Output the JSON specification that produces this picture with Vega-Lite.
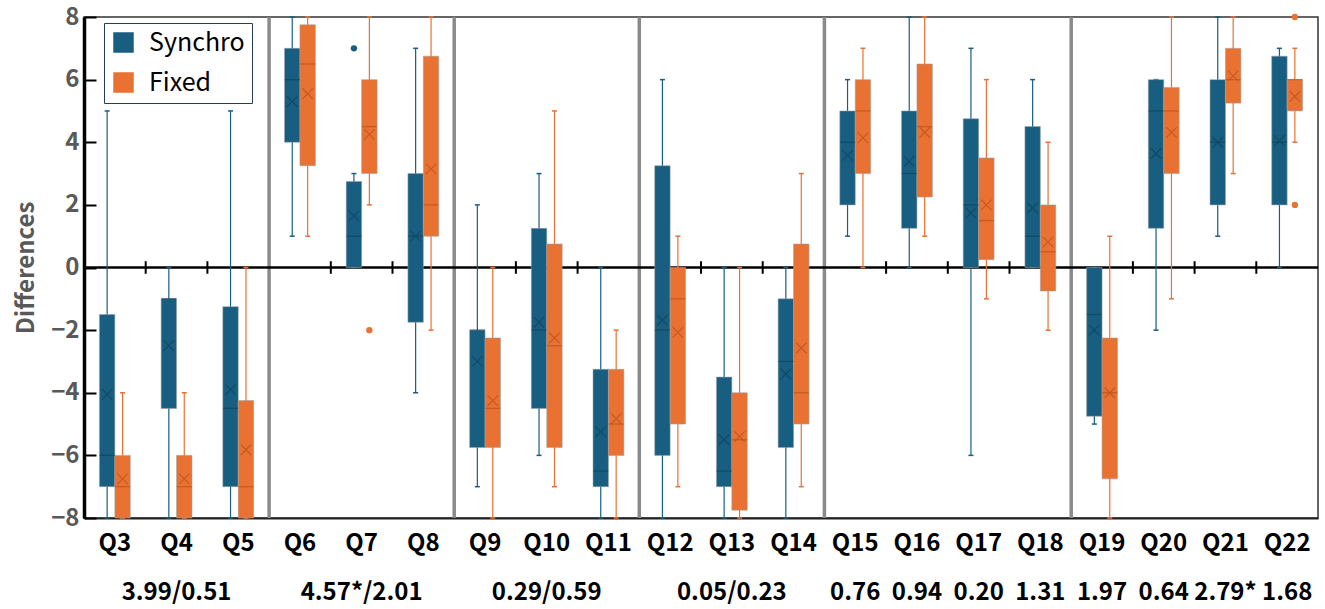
{
  "$schema": "https://vega.github.io/schema/vega-lite/v6.json",
  "autosize": "none",
  "width": 1234,
  "height": 501,
  "padding": {"left": 84, "top": 17, "right": 7, "bottom": 91},
  "config": {
    "font": "Noto Sans CJK JP",
    "view": {"stroke": "#333333", "strokeWidth": 1.5}
  },
  "datasets": {
    "stats": [
      {"q": "Q3", "s": "Synchro", "lo": -8, "q1": -7, "med": -6, "q3": -1.5, "hi": 5, "mean": -4.05},
      {"q": "Q3", "s": "Fixed", "lo": -8, "q1": -8, "med": -7, "q3": -6, "hi": -4, "mean": -6.75},
      {"q": "Q4", "s": "Synchro", "lo": -8, "q1": -4.5, "med": -1, "q3": -1, "hi": 0, "mean": -2.5},
      {"q": "Q4", "s": "Fixed", "lo": -8, "q1": -8, "med": -7, "q3": -6, "hi": -4, "mean": -6.75},
      {"q": "Q5", "s": "Synchro", "lo": -8, "q1": -7, "med": -4.5, "q3": -1.25, "hi": 5, "mean": -3.9},
      {"q": "Q5", "s": "Fixed", "lo": -8, "q1": -8, "med": -7, "q3": -4.25, "hi": 0, "mean": -5.82},
      {"q": "Q6", "s": "Synchro", "lo": 1, "q1": 4, "med": 6, "q3": 7, "hi": 8, "mean": 5.3},
      {"q": "Q6", "s": "Fixed", "lo": 1, "q1": 3.25, "med": 6.5, "q3": 7.75, "hi": 8, "mean": 5.55},
      {"q": "Q7", "s": "Synchro", "lo": 0, "q1": 0, "med": 1, "q3": 2.75, "hi": 3, "mean": 1.65},
      {"q": "Q7", "s": "Fixed", "lo": 2, "q1": 3, "med": 4.5, "q3": 6, "hi": 8, "mean": 4.25},
      {"q": "Q8", "s": "Synchro", "lo": -4, "q1": -1.75, "med": 1, "q3": 3, "hi": 7, "mean": 1.0},
      {"q": "Q8", "s": "Fixed", "lo": -2, "q1": 1, "med": 2, "q3": 6.75, "hi": 8, "mean": 3.15},
      {"q": "Q9", "s": "Synchro", "lo": -7, "q1": -5.75, "med": -2, "q3": -2, "hi": 2, "mean": -3.0},
      {"q": "Q9", "s": "Fixed", "lo": -8, "q1": -5.75, "med": -4.5, "q3": -2.25, "hi": 0, "mean": -4.25},
      {"q": "Q10", "s": "Synchro", "lo": -6, "q1": -4.5, "med": -2, "q3": 1.25, "hi": 3, "mean": -1.75},
      {"q": "Q10", "s": "Fixed", "lo": -7, "q1": -5.75, "med": -2.5, "q3": 0.75, "hi": 5, "mean": -2.25},
      {"q": "Q11", "s": "Synchro", "lo": -8, "q1": -7, "med": -6.5, "q3": -3.25, "hi": 0, "mean": -5.25},
      {"q": "Q11", "s": "Fixed", "lo": -8, "q1": -6, "med": -5, "q3": -3.25, "hi": -2, "mean": -4.83},
      {"q": "Q12", "s": "Synchro", "lo": -8, "q1": -6, "med": -2, "q3": 3.25, "hi": 6, "mean": -1.68},
      {"q": "Q12", "s": "Fixed", "lo": -7, "q1": -5, "med": -1, "q3": 0, "hi": 1, "mean": -2.07},
      {"q": "Q13", "s": "Synchro", "lo": -8, "q1": -7, "med": -6.5, "q3": -3.5, "hi": 0, "mean": -5.5},
      {"q": "Q13", "s": "Fixed", "lo": -8, "q1": -7.75, "med": -5.5, "q3": -4, "hi": 0, "mean": -5.4},
      {"q": "Q14", "s": "Synchro", "lo": -8, "q1": -5.75, "med": -3, "q3": -1, "hi": 0, "mean": -3.4},
      {"q": "Q14", "s": "Fixed", "lo": -7, "q1": -5, "med": -4, "q3": 0.75, "hi": 3, "mean": -2.57},
      {"q": "Q15", "s": "Synchro", "lo": 1, "q1": 2, "med": 4, "q3": 5, "hi": 6, "mean": 3.58},
      {"q": "Q15", "s": "Fixed", "lo": 0, "q1": 3, "med": 5, "q3": 6, "hi": 7, "mean": 4.14},
      {"q": "Q16", "s": "Synchro", "lo": 0, "q1": 1.25, "med": 3, "q3": 5, "hi": 8, "mean": 3.39},
      {"q": "Q16", "s": "Fixed", "lo": 1, "q1": 2.25, "med": 4.5, "q3": 6.5, "hi": 8, "mean": 4.31},
      {"q": "Q17", "s": "Synchro", "lo": -6, "q1": 0, "med": 2, "q3": 4.75, "hi": 7, "mean": 1.74},
      {"q": "Q17", "s": "Fixed", "lo": -1, "q1": 0.25, "med": 1.5, "q3": 3.5, "hi": 6, "mean": 2.0},
      {"q": "Q18", "s": "Synchro", "lo": 0, "q1": 0, "med": 1, "q3": 4.5, "hi": 6, "mean": 1.9},
      {"q": "Q18", "s": "Fixed", "lo": -2, "q1": -0.75, "med": 0.5, "q3": 2, "hi": 4, "mean": 0.81},
      {"q": "Q19", "s": "Synchro", "lo": -5, "q1": -4.75, "med": -1.5, "q3": 0, "hi": 0, "mean": -2.0},
      {"q": "Q19", "s": "Fixed", "lo": -8, "q1": -6.75, "med": -4, "q3": -2.25, "hi": 1, "mean": -4.0},
      {"q": "Q20", "s": "Synchro", "lo": -2, "q1": 1.25, "med": 5, "q3": 6, "hi": 6, "mean": 3.64},
      {"q": "Q20", "s": "Fixed", "lo": -1, "q1": 3, "med": 5, "q3": 5.75, "hi": 8, "mean": 4.31},
      {"q": "Q21", "s": "Synchro", "lo": 1, "q1": 2, "med": 4, "q3": 6, "hi": 8, "mean": 4.0},
      {"q": "Q21", "s": "Fixed", "lo": 3, "q1": 5.25, "med": 6, "q3": 7, "hi": 8, "mean": 6.12},
      {"q": "Q22", "s": "Synchro", "lo": 0, "q1": 2, "med": 4, "q3": 6.75, "hi": 7, "mean": 4.05},
      {"q": "Q22", "s": "Fixed", "lo": 4, "q1": 5, "med": 6, "q3": 6, "hi": 7, "mean": 5.46}
    ],
    "outliers": [
      {"q": "Q7", "s": "Synchro", "v": 7},
      {"q": "Q7", "s": "Fixed", "v": -2},
      {"q": "Q22", "s": "Fixed", "v": 8},
      {"q": "Q22", "s": "Fixed", "v": 2}
    ],
    "seps": [
      {"q": "Q6"}, {"q": "Q9"}, {"q": "Q12"}, {"q": "Q15"}, {"q": "Q19"}
    ],
    "ticks": [
      {"q": "Q4"}, {"q": "Q5"}, {"q": "Q7"}, {"q": "Q8"}, {"q": "Q10"}, {"q": "Q11"},
      {"q": "Q13"}, {"q": "Q14"}, {"q": "Q16"}, {"q": "Q17"}, {"q": "Q18"},
      {"q": "Q20"}, {"q": "Q21"}, {"q": "Q22"}
    ],
    "notes": [
      {"q": "Q4", "t": "3.99/0.51"},
      {"q": "Q7", "t": "4.57*/2.01"},
      {"q": "Q10", "t": "0.29/0.59"},
      {"q": "Q13", "t": "0.05/0.23"},
      {"q": "Q15", "t": "0.76"},
      {"q": "Q16", "t": "0.94"},
      {"q": "Q17", "t": "0.20"},
      {"q": "Q18", "t": "1.31"},
      {"q": "Q19", "t": "1.97"},
      {"q": "Q20", "t": "0.64"},
      {"q": "Q21", "t": "2.79*"},
      {"q": "Q22", "t": "1.68"}
    ]
  },
  "layer": [
    {
      "data": {"name": "seps"},
      "mark": {"type": "rule", "color": "#8a8a8a", "strokeWidth": 3.5},
      "encoding": {
        "x": {
          "field": "q", "type": "ordinal", "bandPosition": 0,
          "scale": {"domain": ["Q3","Q4","Q5","Q6","Q7","Q8","Q9","Q10","Q11","Q12","Q13","Q14","Q15","Q16","Q17","Q18","Q19","Q20","Q21","Q22"], "paddingInner": 0, "paddingOuter": 0},
          "axis": {
            "title": null, "labelAngle": 0, "ticks": false, "labelPadding": 13,
            "labelFontSize": 24, "labelFontWeight": "bold", "labelColor": "#000000",
            "domainColor": "#222222", "domainWidth": 2
          }
        },
        "y": {"datum": 8, "type": "quantitative", "scale": {"domain": [-8, 8], "nice": false}, "axis": {
          "title": "Differences", "titleFontSize": 24, "titleFontWeight": "bold", "titleColor": "#595959", "titlePadding": 12,
          "values": [-8, -6, -4, -2, 0, 2, 4, 6, 8], "grid": false,
          "tickSize": -12, "tickColor": "#000000", "tickWidth": 2, "labelPadding": 17,
          "labelFontSize": 24, "labelFontWeight": "bold", "labelColor": "#595959",
          "domainColor": "#000000", "domainWidth": 3.5
        }},
        "y2": {"datum": -8}
      }
    },
    {
      "data": {"values": [{"z": 0}]},
      "mark": {"type": "rule", "color": "#000000", "strokeWidth": 2.5},
      "encoding": {
        "y": {"field": "z", "type": "quantitative"}
      }
    },
    {
      "data": {"name": "ticks"},
      "mark": {"type": "rule", "color": "#000000", "strokeWidth": 2},
      "encoding": {
        "x": {"field": "q", "type": "ordinal", "bandPosition": 0},
        "y": {"datum": -0.2, "type": "quantitative"},
        "y2": {"datum": 0.2}
      }
    },
    {
      "data": {"name": "stats"},
      "mark": {"type": "rule", "strokeWidth": 1.2},
      "encoding": {
        "x": {"field": "q", "type": "ordinal"},
        "xOffset": {"field": "s", "type": "nominal", "scale": {"domain": ["Synchro", "Fixed"], "paddingInner": 0, "paddingOuter": 1.05}},
        "y": {"field": "lo", "type": "quantitative"},
        "y2": {"field": "hi"},
        "color": {"field": "s", "type": "nominal", "scale": {"domain": ["Synchro", "Fixed"], "range": ["#175E80", "#E97132"]}}
      }
    },
    {
      "data": {"name": "stats"},
      "mark": {"type": "tick", "orient": "horizontal", "size": 5, "thickness": 1.5, "opacity": 1},
      "encoding": {
        "x": {"field": "q", "type": "ordinal"},
        "xOffset": {"field": "s", "type": "nominal"},
        "y": {"field": "lo", "type": "quantitative"},
        "color": {"field": "s", "type": "nominal"}
      }
    },
    {
      "data": {"name": "stats"},
      "mark": {"type": "tick", "orient": "horizontal", "size": 5, "thickness": 1.5, "opacity": 1},
      "encoding": {
        "x": {"field": "q", "type": "ordinal"},
        "xOffset": {"field": "s", "type": "nominal"},
        "y": {"field": "hi", "type": "quantitative"},
        "color": {"field": "s", "type": "nominal"}
      }
    },
    {
      "data": {"name": "stats"},
      "mark": {"type": "bar", "stroke": "#9aa0a6", "strokeWidth": 1, "strokeOpacity": 0.55},
      "encoding": {
        "x": {"field": "q", "type": "ordinal"},
        "xOffset": {"field": "s", "type": "nominal"},
        "y": {"field": "q1", "type": "quantitative"},
        "y2": {"field": "q3"},
        "color": {"field": "s", "type": "nominal", "legend": {
          "orient": "none", "legendX": 20, "legendY": 6, "title": null,
          "strokeColor": "#243F5C", "fillColor": "white",
          "padding": 7, "symbolType": "square", "symbolSize": 420, "symbolStrokeWidth": 0,
          "symbolOpacity": 1,
          "labelFontSize": 25, "labelColor": "#000000", "labelFont": "Noto Sans CJK JP",
          "rowPadding": 14, "labelOffset": 13,
          "encode": {"symbols": {"update": {"opacity": {"value": 1}, "fillOpacity": {"value": 1}}}}
        }}
      }
    },
    {
      "data": {"name": "stats"},
      "transform": [{"filter": "datum.s === 'Synchro'"}],
      "mark": {"type": "tick", "orient": "horizontal", "size": 15, "thickness": 1.3, "color": "#0e435d"},
      "encoding": {
        "x": {"field": "q", "type": "ordinal"},
        "xOffset": {"field": "s", "type": "nominal"},
        "y": {"field": "med", "type": "quantitative"}
      }
    },
    {
      "data": {"name": "stats"},
      "transform": [{"filter": "datum.s === 'Fixed'"}],
      "mark": {"type": "tick", "orient": "horizontal", "size": 15, "thickness": 1.3, "color": "#b9521c"},
      "encoding": {
        "x": {"field": "q", "type": "ordinal"},
        "xOffset": {"field": "s", "type": "nominal"},
        "y": {"field": "med", "type": "quantitative"}
      }
    },
    {
      "data": {"name": "stats"},
      "transform": [{"filter": "datum.s === 'Synchro'"}],
      "mark": {"type": "point", "shape": "M-1,-1L1,1M-1,1L1,-1", "filled": false, "size": 110, "strokeWidth": 1.2, "color": "#0e435d"},
      "encoding": {
        "x": {"field": "q", "type": "ordinal"},
        "xOffset": {"field": "s", "type": "nominal"},
        "y": {"field": "mean", "type": "quantitative"}
      }
    },
    {
      "data": {"name": "stats"},
      "transform": [{"filter": "datum.s === 'Fixed'"}],
      "mark": {"type": "point", "shape": "M-1,-1L1,1M-1,1L1,-1", "filled": false, "size": 110, "strokeWidth": 1.2, "color": "#b9521c"},
      "encoding": {
        "x": {"field": "q", "type": "ordinal"},
        "xOffset": {"field": "s", "type": "nominal"},
        "y": {"field": "mean", "type": "quantitative"}
      }
    },
    {
      "data": {"name": "outliers"},
      "mark": {"type": "point", "shape": "circle", "filled": true, "size": 40, "opacity": 1},
      "encoding": {
        "x": {"field": "q", "type": "ordinal"},
        "xOffset": {"field": "s", "type": "nominal"},
        "y": {"field": "v", "type": "quantitative"},
        "color": {"field": "s", "type": "nominal"}
      }
    },
    {
      "data": {"name": "notes"},
      "mark": {"type": "text", "fontSize": 24, "fontWeight": "bold", "color": "#000000", "baseline": "middle", "dy": 75},
      "encoding": {
        "x": {"field": "q", "type": "ordinal"},
        "y": {"datum": -8, "type": "quantitative"},
        "text": {"field": "t"}
      }
    }
  ]
}
